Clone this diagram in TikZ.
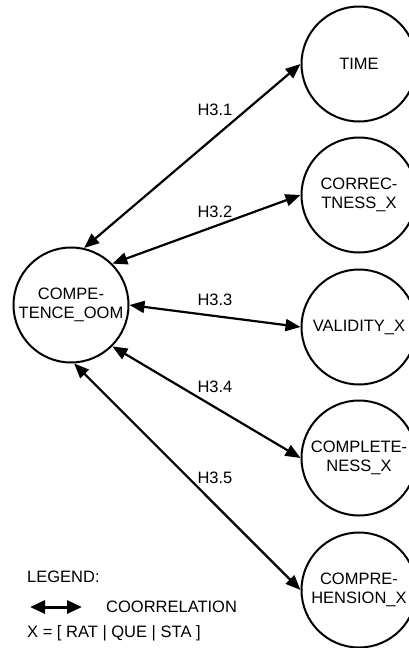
\documentclass[tikz,border=0pt]{standalone}
\usepackage{fontspec}
\setmainfont{Liberation Sans}
\usetikzlibrary{arrows.meta}
\begin{document}
\begin{tikzpicture}[x=1pt,y=-1pt,
  every node/.style={font=\fontsize{16.5}{19}\selectfont},
  var/.style={draw, circle, line width=2pt, minimum size=115pt, inner sep=0pt, align=center},
  conn/.style={line width=2.2pt, {Triangle[length=15pt,width=12pt]}-{Triangle[length=15pt,width=12pt]}},
  legconn/.style={line width=3pt, {Triangle[length=15pt,width=13pt]}-{Triangle[length=15pt,width=13pt]}},
  lbl/.style={inner sep=0pt},
  txt/.style={inner sep=0pt, anchor=west}]
\useasboundingbox (0,0) rectangle (409,648);
\clip (0,0) rectangle (409,648);
\node[var] (comp) at (71,305) {COMPE-\\TENCE\_OOM};
\node[var] (time) at (359,64) {TIME};
\node[var] (corr) at (359,195) {CORREC-\\TNESS\_X};
\node[var] (vali) at (359,327) {VALIDITY\_X};
\node[var] (compl) at (359,458) {COMPLETE-\\NESS\_X};
\node[var] (compr) at (359,590) {COMPRE-\\HENSION\_X};
\draw[conn] (comp.77) -- (time.west);
\draw[conn] (comp.45) -- (corr.west);
\draw[conn] (comp.east) -- (vali.west);
\draw[conn] (comp.-45) -- (compl.west);
\draw[conn] (comp.-87) -- (compr.west);
\node[lbl] (l1) at (215,110) {H3.1};
\node[lbl] (l2) at (215,212) {H3.2};
\node[lbl] (l3) at (215,300) {H3.3};
\node[lbl] (l4) at (215,387) {H3.4};
\node[lbl] (l5) at (215,478) {H3.5};
\node[txt] (legend) at (27,577) {LEGEND:};
\coordinate (legA) at (30,607);
\coordinate (legB) at (82,607);
\draw[legconn] (legA) -- (legB);
\node[txt] (corrl) at (106,607) {COORRELATION};
\node[txt] (xdef) at (27,633) {X = [ RAT | QUE | STA ]};
\end{tikzpicture}
\end{document}
